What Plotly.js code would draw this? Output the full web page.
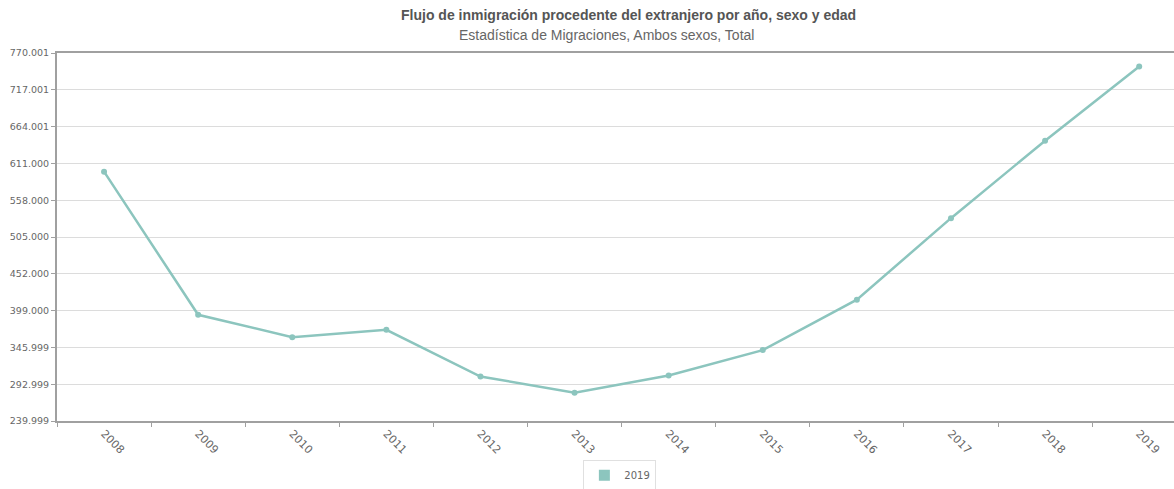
<!DOCTYPE html>
<html>
<head>
<meta charset="utf-8">
<script src="https://cdn.plot.ly/plotly-3.0.1.min.js"></script>
<style>
  html, body { margin: 0; padding: 0; background: #fff; }
  #chart { width: 1174px; height: 489px; }
</style>
</head>
<body>
<div id="chart"></div>
<script>
const years = ['2008','2009','2010','2011','2012','2013','2014','2015','2016','2017','2018','2019'];
const values = [599075, 392963, 360705, 371335, 304054, 280772, 305454, 342114, 414746, 532132, 643684, 750480];
const seriesName = '2019';
const yTickVals = [239999, 292999, 345999, 399000, 452000, 505000, 558000, 611000, 664001, 717001, 770001];
const yTickText = ['239.999','292.999','345.999','399.000','452.000','505.000','558.000','611.000','664.001','717.001','770.001'];
const titleText = 'Flujo de inmigración procedente del extranjero por año, sexo y edad';
const subtitleText = 'Estadística de Migraciones, Ambos sexos, Total';

const color = '#8cc5be';

const traces = [
  {
    x: years, y: values, type: 'scatter', mode: 'lines+markers',
    line: {color: color, width: 2.5},
    marker: {color: color, size: 6},
    showlegend: false, name: seriesName, hoverinfo: 'x+y'
  },
  {
    x: [null], y: [null], type: 'scatter', mode: 'markers',
    marker: {color: color, size: 11, symbol: 'square'},
    name: seriesName, showlegend: true
  }
];

const layout = {
  width: 1174, height: 489,
  margin: {l: 57, r: 0, t: 53, b: 68, autoexpand: false},
  paper_bgcolor: '#fff', plot_bgcolor: '#fff',
  font: {family: 'Liberation Sans, Arial, sans-serif', color: '#666'},
  xaxis: {
    type: 'category',
    range: [-0.5, 11.37],
    showgrid: false,
    showline: true, linecolor: '#a0a0a0', linewidth: 2, mirror: true,
    ticks: 'outside', tickson: 'boundaries', ticklen: 4, tickcolor: '#a0a0a0',
    tickangle: 45,
    tickfont: {family: 'DejaVu Sans, sans-serif', size: 11, color: '#666'},
    zeroline: false, fixedrange: true, automargin: false
  },
  yaxis: {
    range: [239999, 770001],
    tickvals: yTickVals, ticktext: yTickText,
    showgrid: true, gridcolor: '#dcdcdc', gridwidth: 1,
    showline: true, linecolor: '#a0a0a0', linewidth: 2,
    ticks: 'outside', ticklen: 4, tickcolor: '#a0a0a0',
    tickfont: {family: 'DejaVu Sans, sans-serif', size: 9.5, color: '#666'},
    zeroline: false, fixedrange: true, automargin: false
  },
  showlegend: true,
  legend: {
    orientation: 'h', xanchor: 'center', yanchor: 'top',
    xref: 'container', yref: 'container',
    x: 0.528, y: 0.06,
    bordercolor: '#e0e0e0', borderwidth: 1, bgcolor: '#fff',
    font: {family: 'DejaVu Sans, sans-serif', size: 10, color: '#666'},
    itemwidth: 20
  },
  annotations: [
    {text: '<b>' + titleText + '</b>', xref: 'paper', yref: 'paper',
     x: 0.512, y: 1, yshift: 38, xanchor: 'center', yanchor: 'middle', showarrow: false,
     font: {family: 'Liberation Sans, Arial, sans-serif', size: 14, color: '#555'}},
    {text: subtitleText, xref: 'paper', yref: 'paper',
     x: 0.492, y: 1, yshift: 18, xanchor: 'center', yanchor: 'middle', showarrow: false,
     font: {family: 'Liberation Sans, Arial, sans-serif', size: 14, color: '#666'}}
  ]
};

Plotly.newPlot('chart', traces, layout, {displayModeBar: false, staticPlot: true});
</script>
</body>
</html>
